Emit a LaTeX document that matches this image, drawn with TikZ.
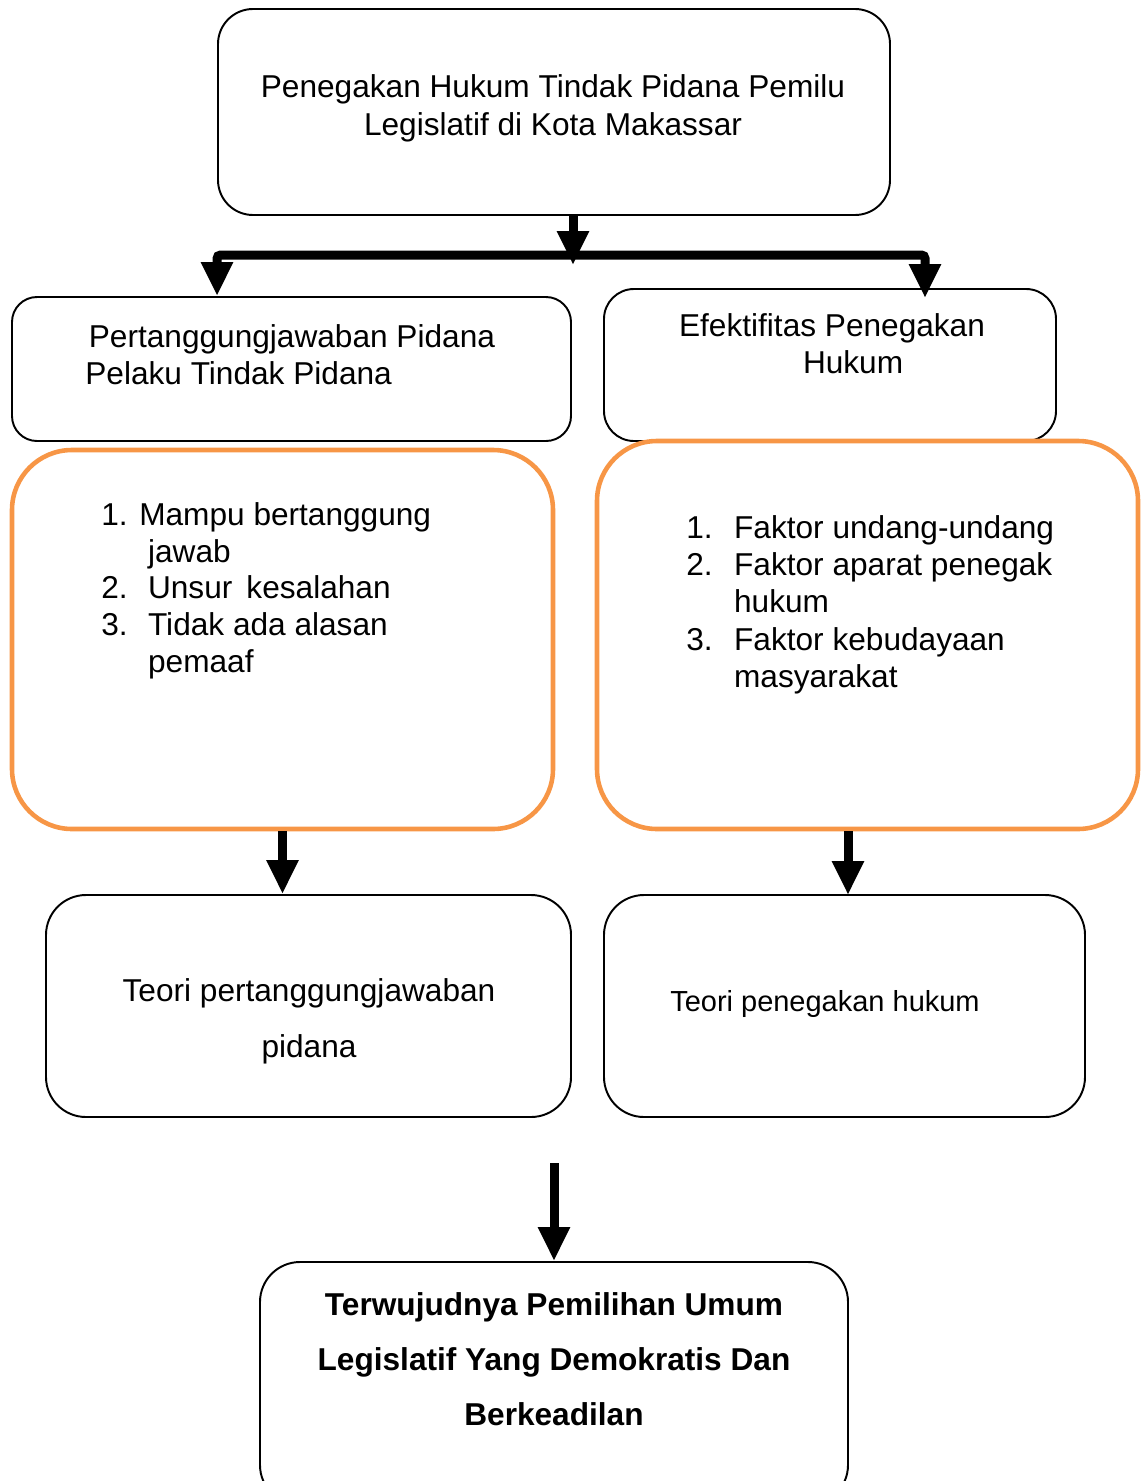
\documentclass[tikz,border=0pt]{standalone}
\usepackage{fontspec}
\setmainfont{Liberation Sans}
\usepackage{tikz}
\usetikzlibrary{arrows.meta}
\usetikzlibrary{fit}
\definecolor{orangebox}{HTML}{F79646}
\tikzstyle{Arrow}=[line width=0.18cm, rounded corners=2pt, -{Triangle[length=0.68cm, width=0.6cm]}]

\begin{document}
\begin{tikzpicture}[
  x=0.02cm, y=-0.02cm,
  Box/.style={draw, line width=1.1pt, inner sep=0, rounded corners=#1},
  Box/.default=0.8cm,
  Orange/.style={draw=orangebox, line width=2.6pt, inner sep=0, rounded corners=1.2cm},
  Text/.style={inner sep=0, anchor=north, font=\fontsize{18}{21}\selectfont}
]
\useasboundingbox (0,0) rectangle (1140,1481);

\node[Box=0.7cm, fit={(218,9) (890,215)}] (penegakan) {};
\node[Box=0.5cm, fit={(12,297) (571,441)}] (pertanggungjawaban) {};
\node[Box=0.6cm, fit={(604,289) (1056,441)}] (efektifitas) {};
\node[Orange, fit={(12,450) (553,829)}] (unsur) {};
\node[Orange, fit={(597,441) (1138,829)}] (faktor) {};
\node[Box, fit={(46,895) (571,1117)}] (teoriPj) {};
\node[Box, fit={(604,895) (1085,1117)}] (teoriPh) {};
\node[Box, fit={(260,1262) (848,1505)}] (terwujud) {};

\node[Text, font=\fontsize{18}{21.5}\selectfont] (txtPenegakan) at (553,71)
  {\begin{tabular}{@{}c@{}}Penegakan Hukum Tindak Pidana Pemilu\\Legislatif di Kota Makassar\end{tabular}};
\node[Text, anchor=north west] (txtPertanggungjawaban) at (85,321)
  {\begin{tabular}{@{}l@{}}\hspace{2pt}Pertanggungjawaban Pidana\\Pelaku Tindak Pidana\end{tabular}};
\node[Text] (txtEfektifitas) at (832,310)
  {\begin{tabular}{@{}c@{}}Efektifitas Penegakan\\\hspace*{24pt}Hukum\end{tabular}};
\node[Text, anchor=north west] (txtUnsur) at (101,499)
  {\begin{tabular}{@{}p{26.6pt}@{}l@{}}
   1.&\hspace{-5pt}Mampu bertanggung\\
     &jawab\\
   2.&Unsur\hspace{3pt} kesalahan\\
   3.&Tidak ada alasan\\
     &pemaaf
  \end{tabular}};
\node[Text, anchor=north west, font=\fontsize{18}{21.2}\selectfont] (txtFaktor) at (686,512)
  {\begin{tabular}{@{}p{27.2pt}@{}l@{}}
   1.&Faktor undang-undang\\
   2.&Faktor aparat penegak\\
     &hukum\\
   3.&Faktor kebudayaan\\
     &masyarakat
  \end{tabular}};
\node[Text, font=\fontsize{18}{31.75}\selectfont] (txtTeoriPj) at (309,962)
  {\begin{tabular}{@{}c@{}}Teori pertanggungjawaban\\pidana\end{tabular}};
\node[inner sep=0, anchor=base, font=\fontsize{16.5}{20}\selectfont] (txtTeoriPh) at (825,1011)
  {Teori penegakan hukum};
\node[Text, font=\fontsize{18}{31.2}\selectfont\bfseries] (txtTerwujud) at (554,1277)
  {\begin{tabular}{@{}c@{}}Terwujudnya Pemilihan Umum\\Legislatif Yang Demokratis Dan\\Berkeadilan\end{tabular}};

\coordinate (bar) at (573,255);
\coordinate (split) at (573,265);
\coordinate (dropR) at (925,298);
\coordinate (dropFaktor) at (848,895);
\coordinate (akhir) at (554,1163);

\draw[Arrow] (bar) -| (pertanggungjawaban.north -| penegakan.west);
\draw[Arrow] (bar) -| (dropR);
\draw[Arrow] (penegakan.south -| split) -- (split);
\draw[Arrow] (unsur.south) -- (teoriPj.north -| unsur.south);
\draw[Arrow] (faktor.south -| dropFaktor) -- (dropFaktor);
\draw[Arrow] (akhir) -- (terwujud.north);

\end{tikzpicture}
\end{document}
